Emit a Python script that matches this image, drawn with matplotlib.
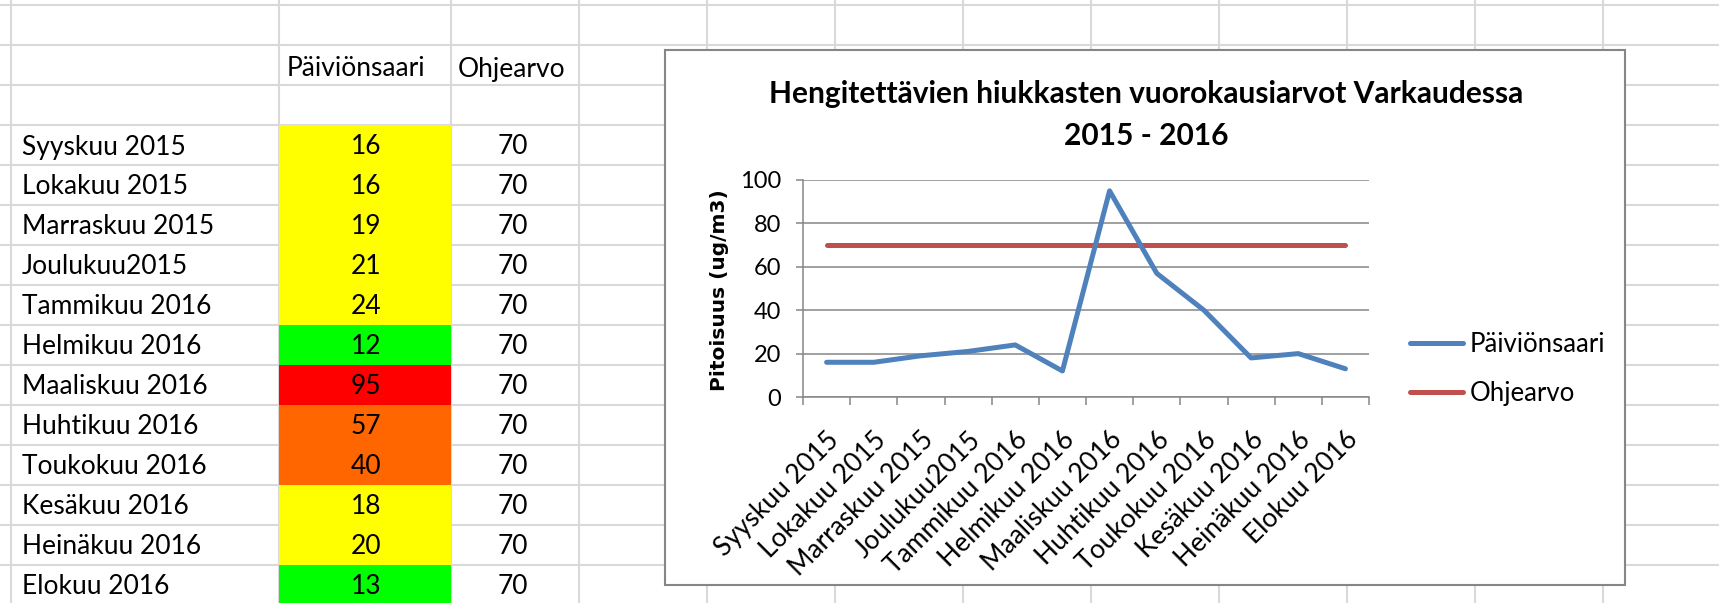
import numpy as np
import matplotlib.pyplot as plt
import matplotlib.transforms as mtransforms
from matplotlib.patches import Rectangle

# taulukon ja kaavion arvot
kuukaudet = ["Syyskuu 2015", "Lokakuu 2015", "Marraskuu 2015", "Joulukuu2015",
             "Tammikuu 2016", "Helmikuu 2016", "Maaliskuu 2016", "Huhtikuu 2016",
             "Toukokuu 2016", "Kesäkuu 2016", "Heinäkuu 2016", "Elokuu 2016"]
paiviönsaari = [16, 16, 19, 21, 24, 12, 95, 57, 40, 18, 20, 13]
ohjearvo = [70, 70, 70, 70, 70, 70, 70, 70, 70, 70, 70, 70]
solu_varit = ["#FFFF00", "#FFFF00", "#FFFF00", "#FFFF00", "#FFFF00", "#00FF00",
              "#FF0000", "#FF6600", "#FF6600", "#FFFF00", "#FFFF00", "#00FF00"]
sarakkeet = ["Päiviönsaari", "Ohjearvo"]
otsikko = "Hengitettävien hiukkasten vuorokausiarvot Varkaudessa\n2015 - 2016"
y_otsikko = "Pitoisuus (ug/m3)"

W, H = 1719, 603
FONT = "Lato"

fig = plt.figure(figsize=(W / 100, H / 100), dpi=100)

# taustalla taulukkolaskennan ruudukko, koordinaatit pikseleinä
bg = fig.add_axes([0, 0, 1, 1])
bg.set_xlim(0, W)
bg.set_ylim(H, 0)
bg.axis("off")

col_edges = [10.5, 279, 451, 579] + [579 + 128 * k for k in range(1, 10)]
row_edges = [5 + 40 * k for k in range(16)]
for xe in col_edges:
    bg.axvline(xe, color="#D9D9D9", lw=1.5, zorder=1)
for ye in row_edges:
    bg.axhline(ye, color="#D9D9D9", lw=1.5, zorder=1)

row_top = np.array([125 + 40 * i for i in range(len(kuukaudet))])
bg.bar((279 + 451) / 2, 40, width=172, bottom=row_top, color=solu_varit, zorder=2)

fs = 19
bg.text(287, 69, sarakkeet[0], fontsize=fs, family=FONT, va="center", zorder=3)
bg.text(458, 69, sarakkeet[1], fontsize=fs, family=FONT, va="center", zorder=3)
for i, kk in enumerate(kuukaudet):
    yc = row_top[i] + 22
    bg.text(22, yc, kk, fontsize=fs, family=FONT, va="center", zorder=3)
    bg.text(366, yc, str(paiviönsaari[i]), fontsize=fs, family=FONT,
            ha="center", va="center", zorder=3)
    bg.text(513, yc, str(ohjearvo[i]), fontsize=fs, family=FONT,
            ha="center", va="center", zorder=3)

# kaavion kehys
bg.add_patch(Rectangle((665, 50), 960, 535, facecolor="white",
                       edgecolor="#868686", lw=1.5, zorder=4))

# itse kaavio
ax = fig.add_axes([803 / W, 1 - 397 / H, 566 / W, 217 / H], zorder=5)
ax.patch.set_alpha(0)
x = np.arange(len(kuukaudet))
ax.plot(x, paiviönsaari, color="#4F81BD", lw=3.6, label="Päiviönsaari",
        solid_capstyle="round", solid_joinstyle="round", zorder=4)
ax.plot(x, ohjearvo, color="#C0504D", lw=3.6, label="Ohjearvo",
        solid_capstyle="round", zorder=3)

ax.set_xlim(-0.5, len(kuukaudet) - 0.5)
ax.set_ylim(0, 100)
ax.set_yticks(np.arange(0, 101, 20))
ax.grid(axis="y", color="#868686", lw=1.1)
ax.set_axisbelow(True)
for s in ["top", "right"]:
    ax.spines[s].set_visible(False)
for s in ["left", "bottom"]:
    ax.spines[s].set_color("#868686")
    ax.spines[s].set_linewidth(1.1)

ax.tick_params(axis="y", length=5, width=1.1, color="#868686", pad=11,
               labelsize=17)
for t in ax.get_yticklabels():
    t.set_family(FONT)

ax.set_xticks(x)
ax.set_xticklabels(kuukaudet, rotation=45, ha="right", va="center",
                   rotation_mode="anchor", fontsize=19, family=FONT)
ax.set_xticks(np.arange(-0.5, len(kuukaudet)), minor=True)
ax.tick_params(axis="x", which="major", length=0, pad=28)
ax.tick_params(axis="x", which="minor", length=6, width=1.1, color="#868686")
offset = mtransforms.ScaledTranslation(6 / 72, 0, fig.dpi_scale_trans)
for t in ax.get_xticklabels():
    t.set_transform(t.get_transform() + offset)

ax.legend(loc="center left", bbox_to_anchor=(1410 / W, 1 - 369 / H),
          bbox_transform=fig.transFigure, frameon=False, handlelength=2.05,
          handletextpad=0.28, labelspacing=0.9, borderpad=0, borderaxespad=0,
          prop={"family": FONT, "size": 18.5})

fig.text(1146 / W, 1 - 115 / H, otsikko, ha="center", va="center",
         fontsize=21.5, fontweight="bold", family=FONT, linespacing=1.6, zorder=6)
fig.text(719 / W, 1 - 290 / H, y_otsikko, rotation=90, ha="center", va="center",
         fontsize=14.5, fontweight="bold", family="DejaVu Sans", zorder=6)

fig.savefig("out.png", dpi=100)
